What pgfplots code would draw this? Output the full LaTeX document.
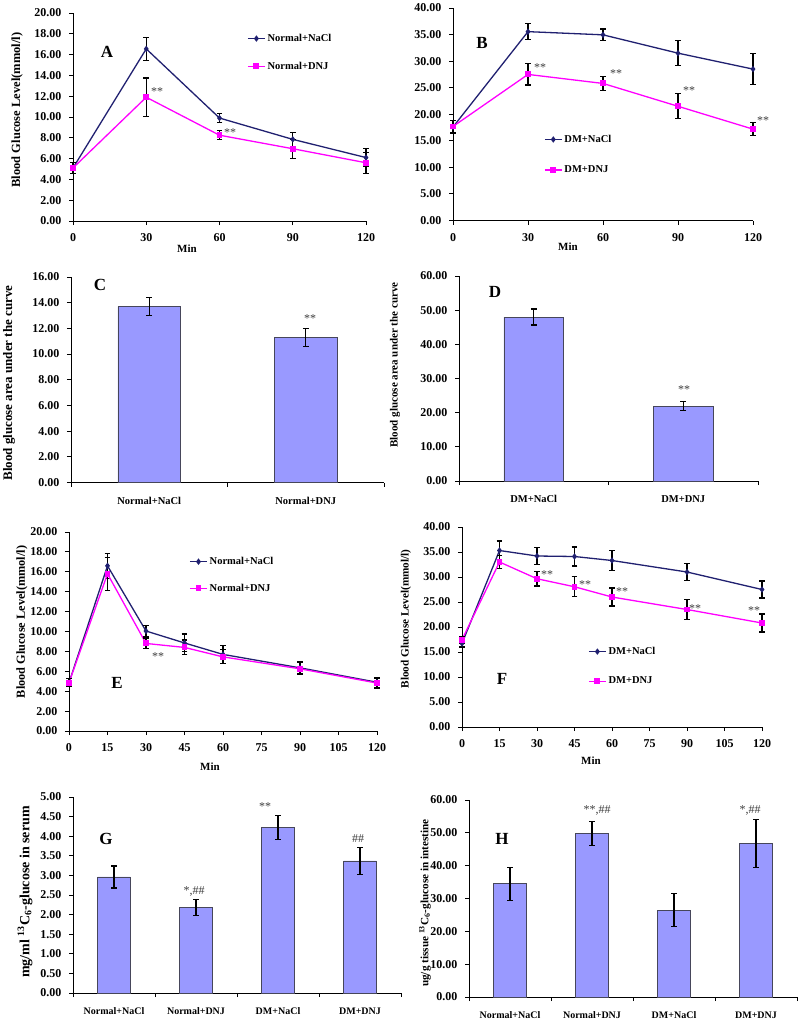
\documentclass[border=0pt]{standalone}
\usepackage{pgfplots}
\pgfplotsset{compat=1.18}
\usepackage{fontspec}
\setmainfont{Liberation Serif}

\definecolor{navyline}{RGB}{32,32,112}
\definecolor{mag}{RGB}{255,0,255}
\definecolor{barfill}{RGB}{153,153,255}
\definecolor{barline}{RGB}{70,70,90}
\definecolor{anno}{RGB}{60,60,60}

\pgfplotsset{
  panel/.style={
    scale only axis, anchor=north west, clip=false, ymin=0,
    axis x line*=bottom, axis y line*=left,
    axis line style={-, black, line width=0.9pt},
    tick align=outside, major tick length=4pt,
    tick style={black, line width=0.9pt},
    /pgf/number format/assume math mode=true,
    ticklabel style={font=\bfseries\fontsize{12}{14}\selectfont},
    yticklabel style={xshift=-4pt, /pgf/number format/.cd, fixed, fixed zerofill, precision=2},
    xticklabel style={yshift=-5pt},
  },
  errbars/.style={
    error bars/.cd, y dir=both, y explicit,
    error bar style={black, line width=1.4pt},
    error mark options={black, rotate=90, mark size=2.8pt, line width=1.1pt},
  },
  nacl/.style={color=navyline, line width=1.3pt, mark=diamond*, mark size=2.2pt,
    mark options={fill=navyline, solid}, errbars},
  dnj/.style={color=mag, line width=1.3pt, mark=square*, mark size=2.3pt,
    mark options={fill=mag, solid}, errbars},
  leg/.style={legend style={draw=none, fill=none, anchor=north west, yshift=6pt,
    font=\bfseries\fontsize{10.5}{12}\selectfont, row sep=#1, inner sep=0pt},
    legend cell align=left},
  barpanel/.style={panel, ybar, bar width=0.4,
    x tick label as interval,
    xticklabel style={font=\bfseries\fontsize{10.5}{12}\selectfont, yshift=-2pt}},
  bars/.style={fill=barfill, draw=barline, line width=0.6pt, errbars},
}
\tikzset{
  ann/.style={font=\fontsize{12}{13}\selectfont, text=anno, inner sep=0pt},
  letter/.style={font=\bfseries\fontsize{17}{18}\selectfont, inner sep=0pt},
  ylab/.style={rotate=90, font=\bfseries\fontsize{#1}{14}\selectfont, inner sep=0pt},
  minlab/.style={font=\bfseries\fontsize{11}{12}\selectfont, inner sep=0pt},
}

\begin{document}
\begin{tikzpicture}[x=1pt,y=1pt]
\useasboundingbox (0,0) rectangle (800,-1029);

% ---------- A ----------
\begin{axis}[panel, at={(73pt,-13pt)}, width=293pt, height=208pt,
  xmin=0, xmax=120, xtick={0,30,60,90,120}, ymax=20, ytick={0,2,...,20},
  leg=15pt, legend style={at={(0.594,0.88)}}]
\addplot[nacl] table[x=t, y=m, y error=e] {
t m e
0 5.1 0.5
30 16.55 1.1
60 9.9 0.45
90 7.85 0.65
120 6.1 0.9
};
\addplot[dnj] table[x=t, y=m, y error=e] {
t m e
0 5.1 0.5
30 11.9 1.85
60 8.25 0.45
90 6.95 0.9
120 5.6 1.0
};
\legend{Normal+NaCl, Normal+DNJ}
\end{axis}

% ---------- B ----------
\begin{axis}[panel, at={(453pt,-8pt)}, width=300pt, height=212.5pt,
  xmin=0, xmax=120, xtick={0,30,60,90,120}, ymax=40, ytick={0,5,...,40},
  leg=18pt, legend style={at={(0.303,0.384)}}]
\addplot[nacl] table[x=t, y=m, y error=e] {
t m e
0 17.6 1.2
30 35.55 1.5
60 34.95 1.1
90 31.5 2.35
120 28.5 2.9
};
\addplot[dnj] table[x=t, y=m, y error=e] {
t m e
0 17.7 1.2
30 27.5 2.0
60 25.8 1.3
90 21.5 2.35
120 17.2 1.25
};
\legend{DM+NaCl, DM+DNJ}
\end{axis}

% ---------- C ----------
\begin{axis}[barpanel, at={(71pt,-277pt)}, width=313pt, height=205.5pt,
  xmin=0.5, xmax=2.5, xtick={0.5,1.5,2.5},
  xticklabels={Normal+NaCl, Normal+DNJ}, ymax=16, ytick={0,2,...,16}]
\addplot[bars] table[x=c, y=m, y error=e] {
c m e
1 13.7 0.73
2 11.3 0.68
};
\end{axis}

% ---------- D ----------
\begin{axis}[barpanel, at={(459pt,-276pt)}, width=299pt, height=205pt,
  xmin=0.5, xmax=2.5, xtick={0.5,1.5,2.5},
  xticklabels={DM+NaCl, DM+DNJ}, ymax=60, ytick={0,10,...,60}]
\addplot[bars] table[x=c, y=m, y error=e] {
c m e
1 48.0 2.35
2 21.95 1.25
};
\end{axis}

% ---------- E ----------
\begin{axis}[panel, at={(69pt,-532pt)}, width=308pt, height=199pt,
  xmin=0, xmax=120, xtick={0,15,...,120}, ymax=20, ytick={0,2,...,20},
  leg=14pt, legend style={at={(0.39,0.854)}}]
\addplot[nacl] table[x=t, y=m, y error=e] {
t m e
0 4.85 0.4
15 16.6 1.25
30 10.05 0.55
45 8.85 0.9
60 7.7 0.9
90 6.35 0.6
120 4.9 0.5
};
\addplot[dnj] table[x=t, y=m, y error=e] {
t m e
0 4.85 0.4
15 15.8 1.65
30 8.8 0.55
45 8.4 0.75
60 7.45 0.7
90 6.25 0.6
120 4.82 0.5
};
\legend{Normal+NaCl, Normal+DNJ}
\end{axis}

% ---------- F ----------
\begin{axis}[panel, at={(462pt,-527pt)}, width=300pt, height=200pt,
  xmin=0, xmax=120, xtick={0,15,...,120}, ymax=40, ytick={0,5,...,40},
  leg=17pt, legend style={at={(0.42,0.38)}}]
\addplot[nacl] table[x=t, y=m, y error=e] {
t m e
0 16.7 0.7
15 35.3 1.9
30 34.2 1.7
45 34.1 1.9
60 33.3 2.0
90 31.0 1.7
120 27.5 1.7
};
\addplot[dnj] table[x=t, y=m, y error=e] {
t m e
0 17.45 0.7
15 33.0 1.3
30 29.65 1.45
45 28.05 2.0
60 26.0 1.8
90 23.5 1.95
120 20.8 1.8
};
\legend{DM+NaCl, DM+DNJ}
\end{axis}

% ---------- G ----------
\begin{axis}[barpanel, at={(73pt,-797pt)}, width=328pt, height=196pt,
  xmin=0.5, xmax=4.5, xtick={0.5,1.5,...,4.5},
  xticklabels={Normal+NaCl, Normal+DNJ, DM+NaCl, DM+DNJ},
  xticklabel style={font=\bfseries\fontsize{10}{12}\selectfont},
  ymax=5, ytick={0,0.5,...,5}]
\addplot[bars] table[x=c, y=m, y error=e] {
c m e
1 2.96 0.28
2 2.18 0.2
3 4.22 0.3
4 3.37 0.34
};
\end{axis}

% ---------- H ----------
\begin{axis}[barpanel, at={(469pt,-800pt)}, width=328pt, height=197pt,
  xmin=0.5, xmax=4.5, xtick={0.5,1.5,...,4.5},
  xticklabels={Normal+NaCl, Normal+DNJ, DM+NaCl, DM+DNJ},
  xticklabel style={font=\bfseries\fontsize{10}{12}\selectfont},
  ymax=60, ytick={0,10,...,60}]
\addplot[bars] table[x=c, y=m, y error=e] {
c m e
1 34.5 5.0
2 49.8 3.6
3 26.5 4.9
4 46.8 7.4
};
\end{axis}

% ---------- texts ----------
\node[letter] at (107,-52) {A};
\node[letter] at (482,-43) {B};
\node[letter] at (100,-285) {C};
\node[letter] at (495,-292) {D};
\node[letter] at (117,-683) {E};
\node[letter] at (502,-679) {F};
\node[letter] at (106,-839) {G};
\node[letter] at (502,-839) {H};

\node[ylab=12.5] at (17,-110) {Blood Glucose Level(mmol/l)};
\node[ylab=13] at (9,-383) {Blood glucose area under the curve};
\node[ylab=11] at (395,-365) {Blood glucose area under the curve};
\node[ylab=12.3] at (22,-622) {Blood Glucose Level(mmol/l)};
\node[ylab=11.2] at (406,-619) {Blood Glucose Level(mmol/l)};
\node[ylab=14] at (25,-892) {mg/ml \textsuperscript{13}C\textsubscript{6}-glucose in serum};
\node[ylab=11.2] at (425,-903) {ug/g tissue \textsuperscript{13}C\textsubscript{6}-glucose in intestine};

\node[minlab] at (187,-249) {Min};
\node[minlab] at (568,-247) {Min};
\node[minlab] at (210,-767) {Min};
\node[minlab] at (591,-761) {Min};

% significance marks
\node[ann] at (157,-92) {**};
\node[ann] at (230,-133) {**};
\node[ann] at (540,-68) {**};
\node[ann] at (616,-74) {**};
\node[ann] at (689,-91) {**};
\node[ann] at (763,-121) {**};
\node[ann] at (310,-319) {**};
\node[ann] at (684,-390) {**};
\node[ann] at (158,-657) {**};
\node[ann] at (547,-575) {**};
\node[ann] at (585,-585) {**};
\node[ann] at (622,-592) {**};
\node[ann] at (695,-609) {**};
\node[ann] at (754,-611) {**};
\node[ann] at (194,-891) {*,\#\#};
\node[ann] at (265,-807) {**};
\node[ann] at (358,-839) {\#\#};
\node[ann] at (597,-810) {**,\#\#};
\node[ann] at (750,-810) {*,\#\#};
\end{tikzpicture}
\end{document}
